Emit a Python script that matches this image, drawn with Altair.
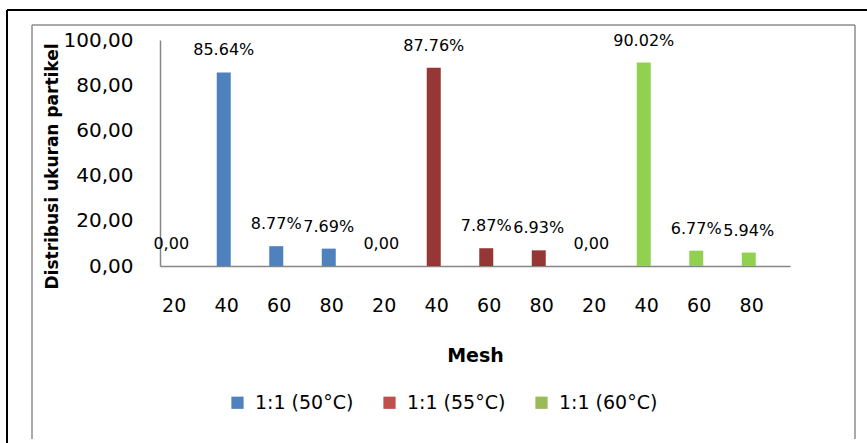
import altair as alt
import pandas as pd

# ---- data ----
series_names = ["1:1 (50°C)", "1:1 (55°C)", "1:1 (60°C)"]
mesh_labels = ["20", "40", "60", "80"]
values_50 = [0.00, 85.64, 8.77, 7.69]
values_55 = [0.00, 87.76, 7.87, 6.93]
values_60 = [0.00, 90.02, 6.77, 5.94]
y_ticks = [0, 20, 40, 60, 80, 100]

bar_colors = ["#4F81BD", "#953735", "#92D050"]
legend_colors = ["#4F81BD", "#C0504D", "#9BBB59"]

rows = []
order = []
for s, vals in zip(series_names, [values_50, values_55, values_60]):
    for m, v in zip(mesh_labels, vals):
        key = f"{s}|{m}"
        order.append(key)
        rows.append({
            "key": key,
            "series": s,
            "mesh": m,
            "value": v,
            "label": "0,00" if v == 0 else f"{v:.2f}%",
        })
df = pd.DataFrame(rows)

FONT = "DejaVu Sans"

x_enc = alt.X(
    "key:N",
    sort=order,
    scale=alt.Scale(paddingInner=0, paddingOuter=0),
    axis=alt.Axis(
        title="Mesh",
        labelExpr="split(datum.label, '|')[1]",
        labelAngle=0,
        labelFont=FONT,
        labelFontSize=19,
        labelColor="#000000",
        labelPadding=39,
        ticks=False,
        domainColor="#868686",
        domainWidth=1.5,
        titleFont=FONT,
        titleFontSize=19,
        titleFontWeight="bold",
        titleColor="#000000",
        titleY=89,
        titleBaseline="middle",
    ),
)

y_enc = alt.Y(
    "value:Q",
    scale=alt.Scale(domain=[0, 100], nice=False),
    axis=alt.Axis(
        title="Distribusi ukuran partikel",
        values=y_ticks,
        labelExpr="replace(format(datum.value, '.2f'), '.', ',')",
        labelFont=FONT,
        labelFontSize=20,
        labelColor="#000000",
        labelPadding=27,
        ticks=False,
        grid=False,
        domainColor="#868686",
        domainWidth=1.5,
        titleFont=FONT,
        titleFontSize=17,
        titleFontWeight="bold",
        titleColor="#000000",
        titleX=-108,
        titleY=126,
        titleAngle=-90,
        titleAlign="center",
        titleBaseline="middle",
    ),
)

base = alt.Chart(df)

bars = base.mark_bar(width=14, xOffset=-15).encode(
    x=x_enc,
    y=y_enc,
    fill=alt.Fill("series:N", scale=alt.Scale(domain=series_names, range=bar_colors), legend=None),
)

legend_layer = base.mark_bar(opacity=0, width=1).encode(
    x=alt.X("key:N", sort=order),
    y=alt.Y("value:Q"),
    color=alt.Color(
        "series:N",
        scale=alt.Scale(domain=series_names, range=legend_colors),
        legend=alt.Legend(
            title=None,
            orient="none",
            direction="horizontal",
            legendX=68,
            legendY=353,
            symbolType="square",
            symbolSize=150,
            symbolOpacity=1,
            symbolStrokeWidth=0,
            labelFont=FONT,
            labelFontSize=19,
            labelColor="#000000",
            labelOffset=8,
            columnPadding=26,
        ),
    ),
)

labels = base.mark_text(
    dx=-15, dy=-22, baseline="middle", align="center", font=FONT, fontSize=16, color="#000000"
).encode(
    x=alt.X("key:N", sort=order),
    y=alt.Y("value:Q"),
    text="label:N",
)

# decorative frame lines around the figure
frame = alt.Data(values=[{}])
black_left = alt.Chart(frame).mark_rule(color="#000000", strokeWidth=2).encode(
    x=alt.value(-153), y=alt.value(-30), y2=alt.value(403)
)
black_top = alt.Chart(frame).mark_rule(color="#000000", strokeWidth=2).encode(
    x=alt.value(-153), x2=alt.value(707), y=alt.value(-30)
)
gray_left = alt.Chart(frame).mark_rule(color="#8C8C8C", strokeWidth=1.5).encode(
    x=alt.value(-128), y=alt.value(-15), y2=alt.value(399)
)
gray_right = alt.Chart(frame).mark_rule(color="#8C8C8C", strokeWidth=1.5).encode(
    x=alt.value(695), y=alt.value(-15), y2=alt.value(399)
)
gray_top = alt.Chart(frame).mark_rule(color="#8C8C8C", strokeWidth=1.5).encode(
    x=alt.value(-128), x2=alt.value(695), y=alt.value(-15)
)

chart = alt.layer(
    legend_layer, bars, labels, black_left, black_top, gray_left, gray_right, gray_top
).properties(
    width=630,
    height=226,
    autosize=alt.AutoSizeParams(type="none"),
    padding={"left": 160, "top": 40, "right": 77, "bottom": 177},
    background="#FFFFFF",
).configure_view(stroke=None)

chart.save("out.html", embed_options={"renderer": "svg", "actions": False})
